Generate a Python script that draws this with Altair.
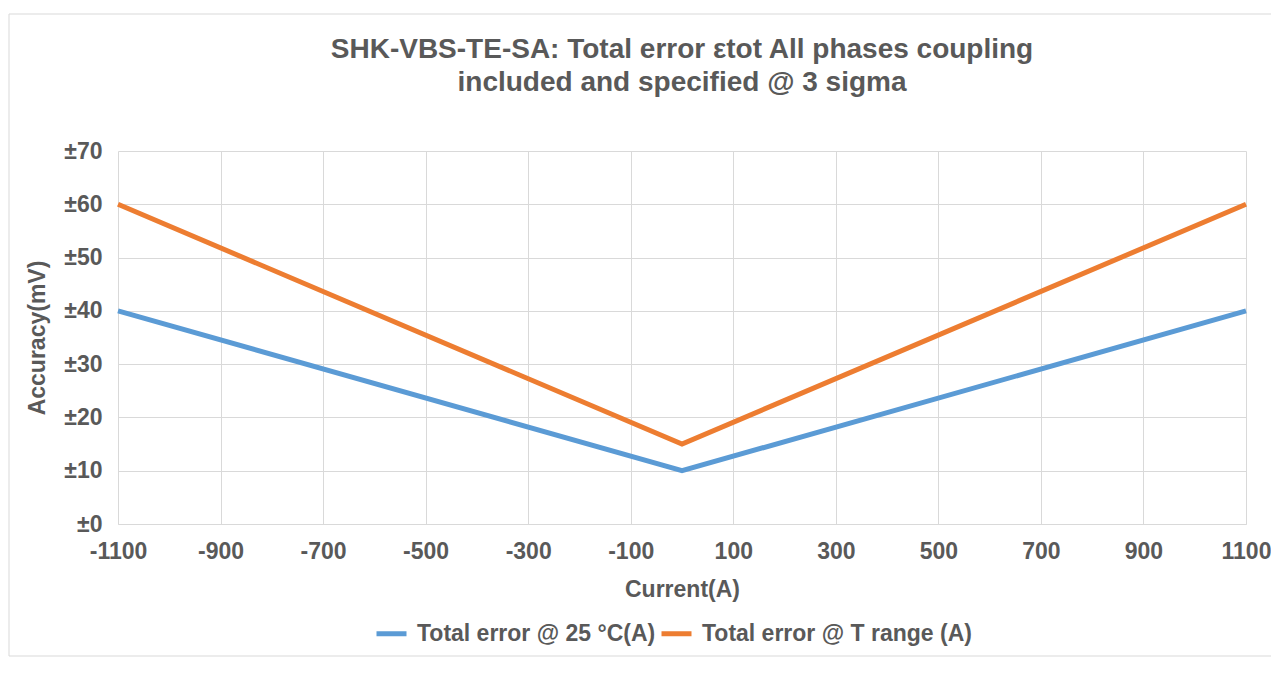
import altair as alt
import pandas as pd

current = [-1100, 0, 1100]
err_25c = [40, 10, 40]
err_trange = [60, 15, 60]
series_names = ["Total error @ 25 °C(A)", "Total error @ T range (A)"]
x_ticks = [-1100, -900, -700, -500, -300, -100, 100, 300, 500, 700, 900, 1100]
y_ticks = [0, 10, 20, 30, 40, 50, 60, 70]

rows = []
for c, a, b in zip(current, err_25c, err_trange):
    rows.append({"Current": c, "Accuracy": a, "Series": series_names[0]})
    rows.append({"Current": c, "Accuracy": b, "Series": series_names[1]})
df = pd.DataFrame(rows)

FONT = "Liberation Sans"
GREY = "#595959"
FS = 23

lines = alt.Chart(df).mark_line(strokeWidth=5, strokeJoin="miter").encode(
    x=alt.X("Current:Q",
            scale=alt.Scale(domain=[-1100, 1100], nice=False, zero=False),
            axis=alt.Axis(values=x_ticks, title="Current(A)", labelExpr="'' + datum.value",
                          labelFlush=False, labelOverlap=False, labelPadding=16, titlePadding=15,
                          ticks=False, domainColor="#d9d9d9", gridColor="#d9d9d9")),
    y=alt.Y("Accuracy:Q",
            scale=alt.Scale(domain=[0, 70], nice=False),
            axis=alt.Axis(values=y_ticks, title="Accuracy(mV)", labelExpr="'±' + datum.value",
                          labelPadding=16, titlePadding=14, ticks=False, domain=False,
                          gridColor="#d9d9d9")),
    color=alt.Color("Series:N",
                    scale=alt.Scale(domain=series_names, range=["#5B9BD5", "#ED7D31"]),
                    legend=alt.Legend(title=None, orient="none", legendX=256, legendY=465,
                                      direction="horizontal", symbolType="stroke",
                                      symbolStrokeWidth=5, symbolSize=900, labelFontSize=FS,
                                      labelFont=FONT, labelFontWeight="bold", labelColor=GREY,
                                      labelLimit=0, columnPadding=-5, labelOffset=8)),
    order=alt.Order("Current:Q"),
)

border_df = pd.DataFrame({"k": [1]})
border = alt.Chart(border_df).mark_rect(fill=None, stroke="#d9d9d9", strokeWidth=1).encode(
    x=alt.value(-109), x2=alt.value(1160), y=alt.value(-137), y2=alt.value(505)
)

chart = alt.layer(border, lines).properties(
    width=1128, height=373,
    title=alt.TitleParams(
        ["SHK-VBS-TE-SA: Total error εtot All phases coupling", "included and specified @ 3 sigma"],
        fontSize=28, font=FONT, fontWeight="bold", color=GREY, lineHeight=33,
        anchor="middle", offset=-83),
    autosize=alt.AutoSizeParams(type="none"),
    padding={"left": 110, "top": 143, "right": 25, "bottom": 140},
).configure_axis(
    labelFont=FONT, labelFontSize=FS, labelFontWeight="bold", labelColor=GREY,
    titleFont=FONT, titleFontSize=FS, titleFontWeight="bold", titleColor=GREY,
).configure_view(stroke=None)

chart.save("out.html", embed_options={"renderer": "svg", "actions": False})
